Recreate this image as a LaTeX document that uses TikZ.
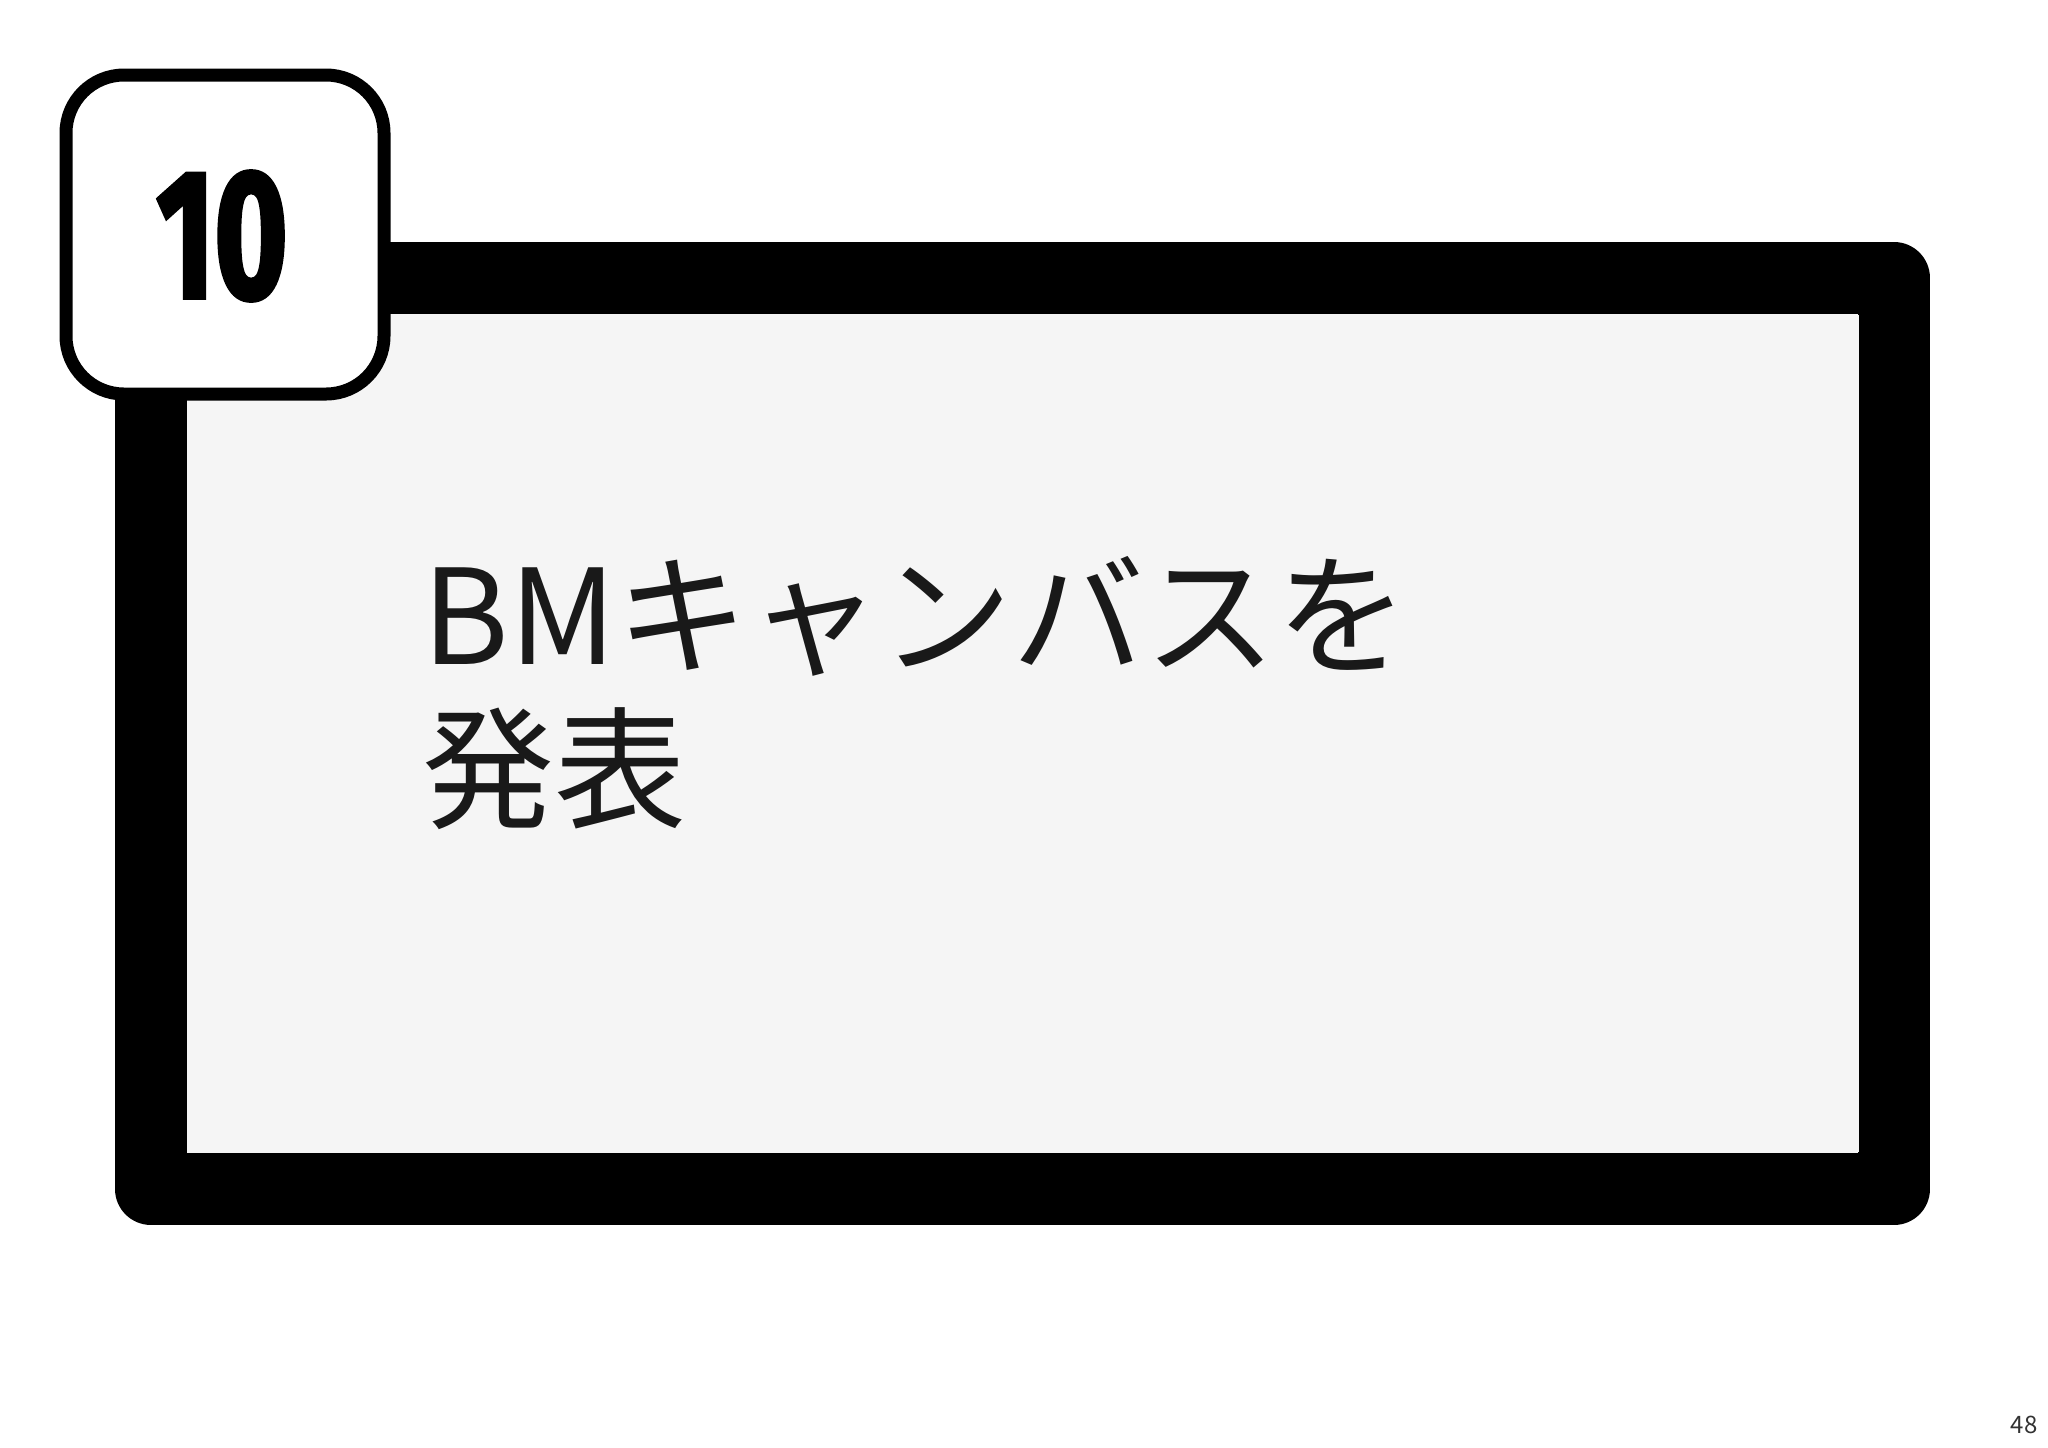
\documentclass[tikz,border=0pt]{standalone}
\usepackage{fontspec}
\newfontfamily\cjk{Noto Sans CJK JP}
\newfontfamily\numf{Fira Sans}[FakeStretch=0.68,FakeBold=2]
\begin{document}
\begin{tikzpicture}[x=0.5pt,y=-0.5pt]
\useasboundingbox (0,0) rectangle (2048,1447);
\fill[white] (0,0) rectangle (2048,1447);
\draw[line width=36pt,fill=black!4,line join=round] (151,278) rectangle (1894,1189);
\fill[black!4] (187,315) rectangle (1859,1152);
\draw[line width=6.5pt,fill=white,rounded corners=29pt] (66,75) rectangle (384,394);
\node[font=\numf\bfseries\fontsize{92}{92}\selectfont,anchor=center] (num) at (222,236) {10};
\node[font=\cjk\fontsize{66}{77}\selectfont,anchor=north west,align=left,inner sep=0,text=black!90] (title) at (422,556) {BMキャンバスを\\発表};
\node[font=\cjk\fontsize{12}{12}\selectfont,text=black!80] (page) at (2024,1425) {48};
\end{tikzpicture}
\end{document}
